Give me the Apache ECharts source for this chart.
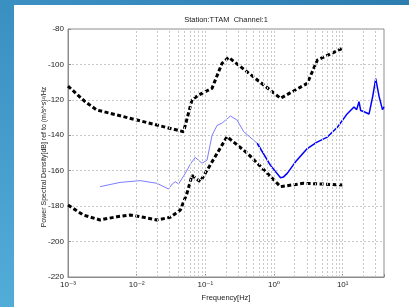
<!DOCTYPE html>
<html>
<head>
<meta charset="utf-8">
<script src="https://cdn.jsdelivr.net/npm/echarts@6/dist/echarts.min.js"></script>
<style>
html, body { margin: 0; padding: 0; }
#wrap { position: relative; width: 409px; height: 307px; background: #fff; overflow: hidden; }
#topband { position: absolute; left: 0; top: 0; width: 409px; height: 5px; background: linear-gradient(to right, #3c91c2, #2e7db0); }
#leftband { position: absolute; left: 0; top: 0; width: 14px; height: 307px; background: linear-gradient(to bottom, #3a8fc1, #52acd8); }
#chart { position: absolute; left: 0; top: 0; width: 409px; height: 307px; }
</style>
</head>
<body>
<div id="wrap">
  <div id="topband"></div>
  <div id="leftband"></div>
  <div id="chart"></div>
</div>
<script>
// high noise model (upper dashed curve)
var hnmFreq = [0.001, 0.00177, 0.00262, 0.0482, 0.064, 0.0798, 0.125, 0.175, 0.219, 1.245, 3.05, 4.28, 9.9];
var hnmDb = [-112.2, -121, -125.7, -138, -120, -117.3, -113.5, -99.4, -96, -119.1, -110.7, -97.5, -90.9];

// low noise model (lower dashed curve)
var lnmFreq = [0.001, 0.00167, 0.00293, 0.00514, 0.00803, 0.0126, 0.0197, 0.0308, 0.0432, 0.054, 0.064, 0.0843, 0.207, 0.406, 1.245, 2.70, 9.9];
var lnmDb = [-179.4, -185, -187.8, -186, -185, -186.3, -187.8, -186.3, -182.2, -172.8, -162.6, -166.2, -140.8, -150, -169, -167.1, -168];

// station PSD (blue)
var psdFreq = [0.00293, 0.00574, 0.01125, 0.0197, 0.0291, 0.033, 0.0365, 0.0408, 0.051, 0.0604, 0.0714, 0.0895, 0.1059,
  0.1253, 0.148, 0.177, 0.232, 0.290, 0.362, 0.569, 0.889, 1.244, 1.376, 1.558, 2.06, 3.05, 4.17, 5.98, 8.37,
  11.7, 14.6, 16.0, 17.3, 18.3, 20.5, 24.2, 27.4, 30.3, 33.9, 38.0, 40];
var psdDb = [-169, -166.6, -165.6, -167.1, -170.3, -167.5, -166.2, -167.5, -161.5, -156.3, -152.5, -155.8, -154,
  -140, -134.5, -133, -129.1, -131.4, -138, -144.5, -157, -164, -163.5, -161.5, -155, -147.5, -144, -141, -135.5,
  -127.8, -124, -125.5, -121, -126, -126.7, -128, -118, -108, -118, -125.5, -124];
var psdSplit = 19; // thin part ends here

var yTicks = [-220, -200, -180, -160, -140, -120, -100, -80];

function pairs(fs, vs) {
  return fs.map(function (f, i) { return [f, vs[i]]; });
}

var supMap = { '-': '\u207b', '0': '\u2070', '1': '\u00b9', '2': '\u00b2', '3': '\u00b3' };
function sup(n) {
  return String(n).split('').map(function (c) { return supMap[c]; }).join('');
}

// vertical grid at 1..9 x each decade
var gridFreqs = [];
for (var d = -3; d <= 1; d++) {
  for (var k = 1; k <= 9; k++) {
    var v = k * Math.pow(10, d);
    if (v > 0.0011 && v < 39) gridFreqs.push(+v.toPrecision(3));
  }
}

var font = '"Liberation Sans", Arial, "DejaVu Sans", sans-serif';
var dashed = { color: '#000', width: 3, type: [4, 2.5], cap: 'butt' };

var chart = echarts.init(document.getElementById('chart'), null, { renderer: 'canvas' });
chart.setOption({
  animation: false,
  backgroundColor: 'transparent',
  textStyle: { fontFamily: font },
  graphic: [{
    type: 'text', x: 226, y: 20,
    style: { text: 'Station:TTAM  Channel:1', align: 'center', verticalAlign: 'middle',
      fontSize: 7.5, fontFamily: font, fill: '#222' }
  }, {
    type: 'text', x: 44, y: 157, rotation: Math.PI / 2,
    style: { text: 'Power Spectral Density[dB] ref to (m/s^s)\u00b2/Hz', align: 'center', verticalAlign: 'middle',
      fontSize: 7, fontFamily: font, fill: '#222' }
  }],
  grid: { left: 68, top: 29, width: 316, height: 248, show: true, borderColor: '#8c8c8c', borderWidth: 1 },
  xAxis: {
    type: 'log', logBase: 10, min: 0.001, max: 40,
    name: 'Frequency[Hz]', nameLocation: 'middle', nameGap: 13,
    nameTextStyle: { fontSize: 7.5, color: '#222', fontFamily: font },
    axisLine: { lineStyle: { color: '#8c8c8c', width: 1 } },
    axisTick: { inside: true, length: 3, lineStyle: { color: '#8c8c8c' } },
    splitLine: { show: false },
    axisLabel: {
      fontSize: 8, color: '#222', margin: 4, fontFamily: font,
      formatter: function (val) {
        var e = Math.log10(val);
        if (Math.abs(e - Math.round(e)) > 1e-6) return '';
        return '10' + sup(Math.round(e));
      }
    }
  },
  yAxis: {
    type: 'value', min: -220, max: -80, interval: 20,
    axisLine: { show: true, lineStyle: { color: '#8c8c8c', width: 1 } },
    axisTick: { show: true, inside: true, length: 3, lineStyle: { color: '#8c8c8c' } },
    splitLine: { show: true, lineStyle: { color: '#c8c8c8', type: [2, 2], width: 1 } },
    axisLabel: { fontSize: 8, color: '#222', margin: 4, fontFamily: font,
      formatter: function (v) { return yTicks.indexOf(v) >= 0 ? String(v) : ''; } }
  },
  series: [
    {
      type: 'line', data: [], z: 1, silent: true,
      markLine: {
        silent: true, symbol: ['none', 'none'], animation: false,
        label: { show: false },
        lineStyle: { color: '#c8c8c8', type: [2, 2], width: 1 },
        emphasis: { disabled: true },
        data: gridFreqs.map(function (f) { return { xAxis: f }; })
      }
    },
    {
      name: 'PSD low', type: 'line', symbol: 'none', z: 3,
      data: pairs(psdFreq.slice(0, psdSplit + 1), psdDb.slice(0, psdSplit + 1)),
      lineStyle: { color: '#5a5aff', width: 0.8 }
    },
    {
      name: 'PSD', type: 'line', symbol: 'none', z: 3,
      data: pairs(psdFreq.slice(psdSplit), psdDb.slice(psdSplit)),
      lineStyle: { color: '#0000ff', width: 1.5 }
    },
    {
      name: 'NHNM', type: 'line', symbol: 'none', z: 4,
      data: pairs(hnmFreq, hnmDb), lineStyle: dashed
    },
    {
      name: 'NLNM', type: 'line', symbol: 'none', z: 4,
      data: pairs(lnmFreq, lnmDb), lineStyle: dashed
    }
  ]
});
</script>
</body>
</html>
